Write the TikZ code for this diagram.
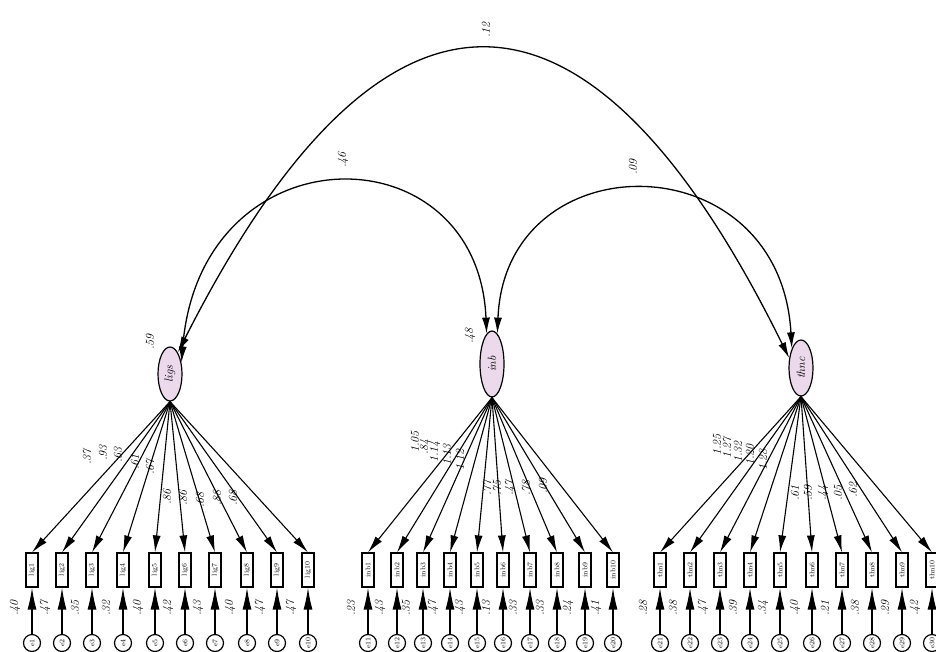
\documentclass[tikz,border=0pt]{standalone}
\usepackage{amsmath}
\usetikzlibrary{calc}
\usetikzlibrary{positioning}
\usetikzlibrary{shapes.geometric}
\usetikzlibrary{arrows.meta}
\tikzstyle{latnode} = [draw, line width=1.2pt, ellipse, fill=violet!15, minimum width=24pt, minimum height=54pt, inner sep=1pt, font=\large\itshape]
\tikzstyle{obsnode} = [draw, line width=1.2pt, rectangle, fill=white, minimum width=12pt, minimum height=34pt, inner sep=0.5pt, font=\scriptsize]
\tikzstyle{errnode} = [draw, line width=1.2pt, circle, fill=white, minimum size=17pt, inner sep=0pt, font=\scriptsize]
\tikzstyle{numlbl} = [rotate=90, inner sep=1pt, font=\large\itshape]
\tikzstyle{loadarr} = [-{Latex[length=17pt,width=8pt]}, line width=1.1pt]
\tikzstyle{errarr} = [-{Latex[length=22pt,width=9pt]}, line width=1.3pt]
\tikzstyle{covarr} = [{Latex[length=16pt,width=8pt]}-{Latex[length=16pt,width=8pt]}, line width=1.3pt]
\newcommand{\vtxt}[1]{\rotatebox{90}{#1}}

\begin{document}
\begin{tikzpicture}[x=1pt, y=-1pt]
    \useasboundingbox (0,0) rectangle (936,651);
    % latent factors
    \node[latnode] (lig) at (170,374) {\vtxt{ligs}};
    \node[latnode, minimum height=66pt] (inb) at (492,364) {\vtxt{inb}};
    \node[latnode, minimum height=56pt] (thn) at (801,368) {\vtxt{thnc}};
    \node[numlbl] (lig_var) at (150,342) {.59};
    \node[numlbl] (inb_var) at (470,336) {.48};
    % covariances
    \draw[covarr] (lig.70) .. controls (383,-53) and (588,-50) .. (thn.140);
    \draw[covarr] (lig.45) .. controls (200,128) and (478,128) .. (inb.100);
    \draw[covarr] (inb.80) .. controls (505,140) and (780,140) .. (thn.115);
    \node[numlbl] (cov_lt) at (486,30) {.12};
    \node[numlbl] (cov_li) at (343,160) {.46};
    \node[numlbl] (cov_it) at (633,167) {.09};
    % indicators of ligs
    \foreach \x/\ld/\lx/\ly/\rsq [count=\i] in {32/.37/87/457/.40, 62/.93/103/453/.47,
        92/.63/118/455/.35, 123/.61/135/462/.32, 155/.67/150/467/.40, 185/.86/167/497/.42,
        215/.86/183/498/.43, 247/.68/200/500/.40, 277/.88/217/498/.47, 308/.68/233/498/.47}{
        \node[obsnode] (lig\i) at (\x,570) {\vtxt{lig\i}};
        \node[errnode] (elig\i) at (\x,643) {\vtxt{e\i}};
        \draw[loadarr] (lig.south) -- (lig\i.north);
        \draw[errarr] (elig\i) -- (lig\i);
        \node[numlbl] (lig_ld\i) at (\lx,\ly) {\ld};
        \node[numlbl] (lig_r\i) at (\x-17,608) {\rsq};
    }
    % indicators of inb
    \foreach \x/\ld/\lx/\ly/\rsq [count=\i, evaluate=\i as \j using int(\i+10)] in {368/1.05/415/442/.23,
        397/.84/425/447/.43, 423/1.14/435/452/.35, 450/1.13/447/455/.47, 477/1.12/460/460/.43,
        503/.77/487/488/.13, 530/.75/497/488/.33, 557/.47/510/488/.33, 585/.78/526/488/.24,
        613/.09/543/486/.41}{
        \node[obsnode] (inb\i) at (\x,570) {\vtxt{inb\i}};
        \node[errnode] (einb\i) at (\x,643) {\vtxt{e\j}};
        \draw[loadarr] (inb.south) -- (inb\i.north);
        \draw[errarr] (einb\i) -- (inb\i);
        \node[numlbl] (inb_ld\i) at (\lx,\ly) {\ld};
        \node[numlbl] (inb_r\i) at (\x-17,608) {\rsq};
    }
    % indicators of thnc
    \foreach \x/\ld/\lx/\ly/\rsq [count=\i, evaluate=\i as \j using int(\i+20)] in {660/1.25/717/445/.28,
        690/1.27/727/448/.38, 720/1.32/738/452/.47, 750/1.20/750/455/.39, 780/1.28/763/460/.34,
        812/.61/795/493/.40, 842/.59/808/493/.21, 872/.44/823/493/.38, 902/.05/838/493/.29,
        932/.62/853/490/.42}{
        \node[obsnode] (thn\i) at (\x,570) {\vtxt{thn\i}};
        \node[errnode] (ethn\i) at (\x,643) {\vtxt{e\j}};
        \draw[loadarr] (thn.south) -- (thn\i.north);
        \draw[errarr] (ethn\i) -- (thn\i);
        \node[numlbl] (thn_ld\i) at (\lx,\ly) {\ld};
        \node[numlbl] (thn_r\i) at (\x-17,608) {\rsq};
    }
\end{tikzpicture}
\end{document}
